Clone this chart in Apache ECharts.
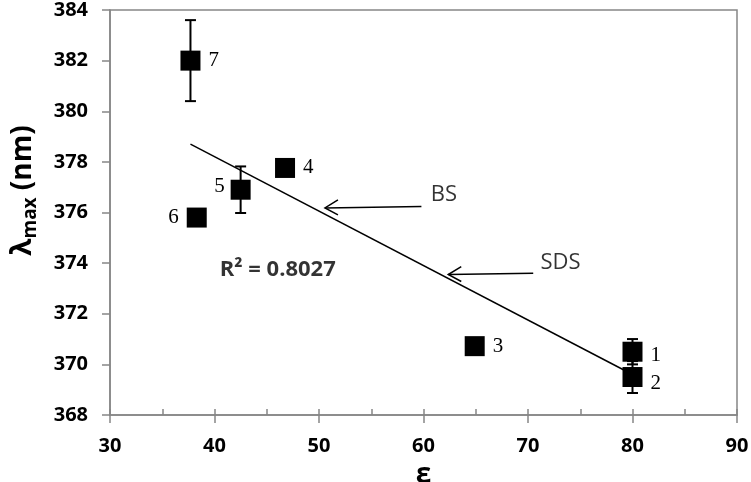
<!DOCTYPE html>
<html>
<head>
<meta charset="utf-8">
<script src="https://cdn.jsdelivr.net/npm/echarts@6/dist/echarts.min.js"></script>
<style>
  html, body { margin: 0; padding: 0; background: #fff; }
  #chart { width: 751px; height: 482px; }
</style>
</head>
<body>
<div id="chart"></div>
<script>
// sample labels and readings
const pointIds = ['1', '2', '3', '4', '5', '6', '7'];
const epsilon = [80, 80, 64.9, 46.75, 42.5, 38.3, 37.7];
const lambdaMax = [370.5, 369.5, 370.72, 377.76, 376.9, 375.8, 382.0];
const lambdaErr = [0.5, 0.63, 0, 0, 0.92, 0, 1.6];

// linear trend line end points
const trendX = [37.7, 80];
const trendY = [378.7, 369.6];

// annotation arrows: [tailX, tailY, tipX, tipY]
const arrowBS = [59.8, 376.24, 50.57, 376.18];
const arrowSDS = [70.5, 373.6, 62.37, 373.55];
const annotationText = ['BS', 'SDS', 'R² = 0.8027'];
const annotationX = [60.7, 71.2, 40.5];
const annotationY = [376.7, 374.0, 373.75];

const xTicks = [30, 40, 50, 60, 70, 80, 90];
const yTicks = [368, 370, 372, 374, 376, 378, 380, 382, 384];

// label placement (pixels), kept apart from the data
const labelPos = ['right', 'right', 'right', 'right', 'left', 'left', 'right'];
const labelOffset = [[0, 4], [0, 6], [0, 0], [0, 0], [2, -3], [0, 0], [0, 0]];

const axisGray = '#868686';
const chart = echarts.init(document.getElementById('chart'));

const points = epsilon.map((x, i) => ({
  value: [x, lambdaMax[i]],
  label: { position: labelPos[i], offset: labelOffset[i] }
}));
const errData = epsilon.map((x, i) => [x, lambdaMax[i] - lambdaErr[i], lambdaMax[i] + lambdaErr[i]]);
const arrowData = [arrowBS, arrowSDS];
const textData = annotationText.map((t, i) => ({ value: [annotationX[i], annotationY[i]], name: t }));
// R² label is bold
textData[2].label = { fontWeight: 'bold', fontSize: 22 };

const option = {
  animation: false,
  grid: {
    left: 110, right: 14, top: 10, bottom: 67, outerBoundsMode: 'none', containLabel: false,
    show: true, borderColor: axisGray, borderWidth: 1.5, backgroundColor: 'transparent'
  },
  xAxis: [
    {
      type: 'value', min: xTicks[0], max: xTicks[xTicks.length - 1], interval: 10,
      name: 'ε', nameLocation: 'middle', nameGap: 42,
      nameTextStyle: { fontFamily: 'Open Sans', fontWeight: 'bold', fontSize: 28, color: '#000' },
      axisLine: { lineStyle: { color: axisGray, width: 1.5 } },
      axisTick: { inside: false, length: 8, lineStyle: { color: axisGray, width: 1.5 } },
      axisLabel: { margin: 21, fontFamily: 'Open Sans', fontWeight: 'bold', fontSize: 20, color: '#000' },
      splitLine: { show: false }
    },
    {
      type: 'value', min: xTicks[0], max: xTicks[xTicks.length - 1], interval: 5, position: 'bottom',
      axisLine: { show: false },
      axisTick: { inside: true, length: 6, lineStyle: { color: axisGray, width: 1.5 } },
      axisLabel: { show: false },
      splitLine: { show: false }
    }
  ],
  yAxis: {
    type: 'value', min: yTicks[0], max: yTicks[yTicks.length - 1], interval: 2,
    name: '{a|λ}{b|max}{a| (nm)}', nameLocation: 'middle', nameGap: 70,
    nameTextStyle: {
      padding: [0, 0, 0, 44],
      rich: {
        a: { fontFamily: 'Open Sans', fontWeight: 'bold', fontSize: 28, color: '#000' },
        b: { fontFamily: 'Open Sans', fontWeight: 'bold', fontSize: 19, color: '#000', padding: [14, 0, 0, 0] }
      }
    },
    axisLine: { lineStyle: { color: axisGray, width: 1.5 } },
    axisTick: { inside: false, length: 8, lineStyle: { color: axisGray, width: 1.5 } },
    axisLabel: { margin: 22, fontFamily: 'Open Sans', fontWeight: 'bold', fontSize: 20, color: '#000' },
    splitLine: { show: false }
  },
  series: [
    {
      name: 'trend', type: 'line', data: trendX.map((x, i) => [x, trendY[i]]),
      symbol: 'none', lineStyle: { color: '#000', width: 1.5 }, z: 2
    },
    {
      name: 'error', type: 'custom', data: errData, z: 3,
      renderItem: (params, api) => {
        if (api.value(2) - api.value(1) <= 0) return null;
        const x = api.value(0);
        const lo = api.coord([x, api.value(1)]);
        const hi = api.coord([x, api.value(2)]);
        const half = 5.5;
        const style = { stroke: '#000', lineWidth: 2 };
        return {
          type: 'group',
          children: [
            { type: 'line', shape: { x1: lo[0], y1: lo[1], x2: hi[0], y2: hi[1] }, style },
            { type: 'line', shape: { x1: hi[0] - half, y1: hi[1], x2: hi[0] + half, y2: hi[1] }, style },
            { type: 'line', shape: { x1: lo[0] - half, y1: lo[1], x2: lo[0] + half, y2: lo[1] }, style }
          ]
        };
      }
    },
    {
      name: 'samples', type: 'scatter', data: points, symbol: 'rect', symbolSize: 20,
      itemStyle: { color: '#000', opacity: 1 }, z: 4,
      label: {
        show: true, distance: 8, formatter: p => pointIds[p.dataIndex],
        fontFamily: 'Liberation Serif', fontSize: 21, color: '#000'
      }
    },
    {
      name: 'arrows', type: 'custom', data: arrowData, z: 3,
      renderItem: (params, api) => {
        const tail = api.coord([api.value(0), api.value(1)]);
        const tip = api.coord([api.value(2), api.value(3)]);
        const style = { stroke: '#000', lineWidth: 1.5, fill: null };
        return {
          type: 'group',
          children: [
            { type: 'line', shape: { x1: tail[0], y1: tail[1], x2: tip[0], y2: tip[1] }, style },
            { type: 'polyline', shape: { points: [[tip[0] + 13, tip[1] - 8], [tip[0], tip[1]], [tip[0] + 13, tip[1] + 7]] }, style }
          ]
        };
      }
    },
    {
      name: 'notes', type: 'scatter', data: textData, symbolSize: 0, z: 5,
      label: {
        show: true, position: 'right', distance: 0,
        formatter: p => p.name,
        fontFamily: 'Open Sans', fontSize: 22, color: '#000'
      },
      emphasis: { disabled: true }
    }
  ]
};

chart.setOption(option);
</script>
</body>
</html>
